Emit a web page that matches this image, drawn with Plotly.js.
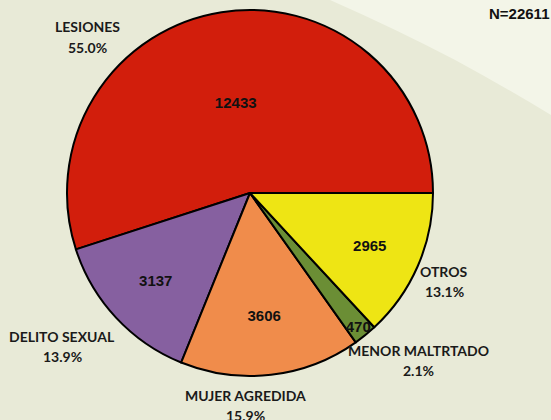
<!DOCTYPE html>
<html><head><meta charset="utf-8">
<script src="https://cdn.plot.ly/plotly-3.0.1.min.js"></script>
<style>html,body{margin:0;padding:0;background:#E8EAD7;}</style>
</head><body>
<div id="chart" style="width:551px;height:420px;"></div>
<script>
const categories = ["LESIONES", "DELITO SEXUAL", "MUJER AGREDIDA", "MENOR MALTRTADO", "OTROS"];
const values = [12433, 3137, 3606, 470, 2965];
const colors = ["#D21E0C", "#8660A0", "#F08C4B", "#6B8E35", "#EEE514"];
const totalLabel = "N=22611";

const total = values.reduce((a, b) => a + b, 0);
const pct = values.map(v => (100 * v / total).toFixed(1) + "%");
const valueText = values.map(v => String(v));

// label placement (pixel centers) for outside labels
const W = 551, H = 420;
const labelPos = [[87, 27], [62, 336], [245, 395], [418, 350], [444, 271]];
const lineGap = 20;
const labelFont = {family: "Lato, 'Open Sans', sans-serif", size: 14, color: "#1a1a1a"};

const ann = [];
categories.forEach((c, i) => {
  const [px, py] = labelPos[i];
  ann.push({x: px / W, y: 1 - py / H, xref: "paper", yref: "paper", text: "<b>" + c + "</b>", showarrow: false,
    xanchor: "center", yanchor: "middle", font: labelFont});
  ann.push({x: px / W, y: 1 - (py + lineGap) / H, xref: "paper", yref: "paper", text: "<b>" + pct[i] + "</b>", showarrow: false,
    xanchor: "center", yanchor: "middle", font: labelFont});
});
ann.push({x: 1, y: 1 - 14 / H, xref: "paper", yref: "paper", text: "<b>" + totalLabel + "</b>", showarrow: false,
  xanchor: "right", yanchor: "middle", font: {family: "Liberation Sans, Arial, sans-serif", size: 15, color: "#111"}});

// first slice spans counterclockwise from 3 o'clock
const rotation = 90 - 360 * values[0] / total;

const trace = {
  type: "pie",
  labels: categories,
  values: values,
  text: valueText,
  sort: false,
  direction: "counterclockwise",
  rotation: rotation,
  marker: {colors: colors, line: {color: "#000", width: 2}},
  texttemplate: "<b>%{text}</b>",
  textposition: "inside",
  insidetextorientation: "horizontal",
  textfont: {family: "Liberation Sans, Arial, sans-serif", size: 15, color: "#111"},
  domain: {x: [67 / W, 433 / W], y: [1 - 376 / H, 1 - 10 / H]},
  showlegend: false,
  hoverinfo: "label+value+percent"
};

const layout = {
  width: W, height: H,
  margin: {l: 0, r: 0, t: 0, b: 0},
  paper_bgcolor: "#E8EAD7",
  plot_bgcolor: "#E8EAD7",
  uniformtext: {minsize: 15, mode: "show"},
  shapes: [{
    type: "path", xref: "paper", yref: "paper", layer: "below",
    path: "M 0.599 1 Q 0.72 0.93, 0.826 0.857 Q 0.92 0.79, 1 0.726 L 1 1 Z",
    fillcolor: "#F3F5E8", line: {width: 0}
  }],
  annotations: ann
};

Plotly.newPlot("chart", [trace], layout, {displayModeBar: false, staticPlot: true});
</script>
</body></html>
